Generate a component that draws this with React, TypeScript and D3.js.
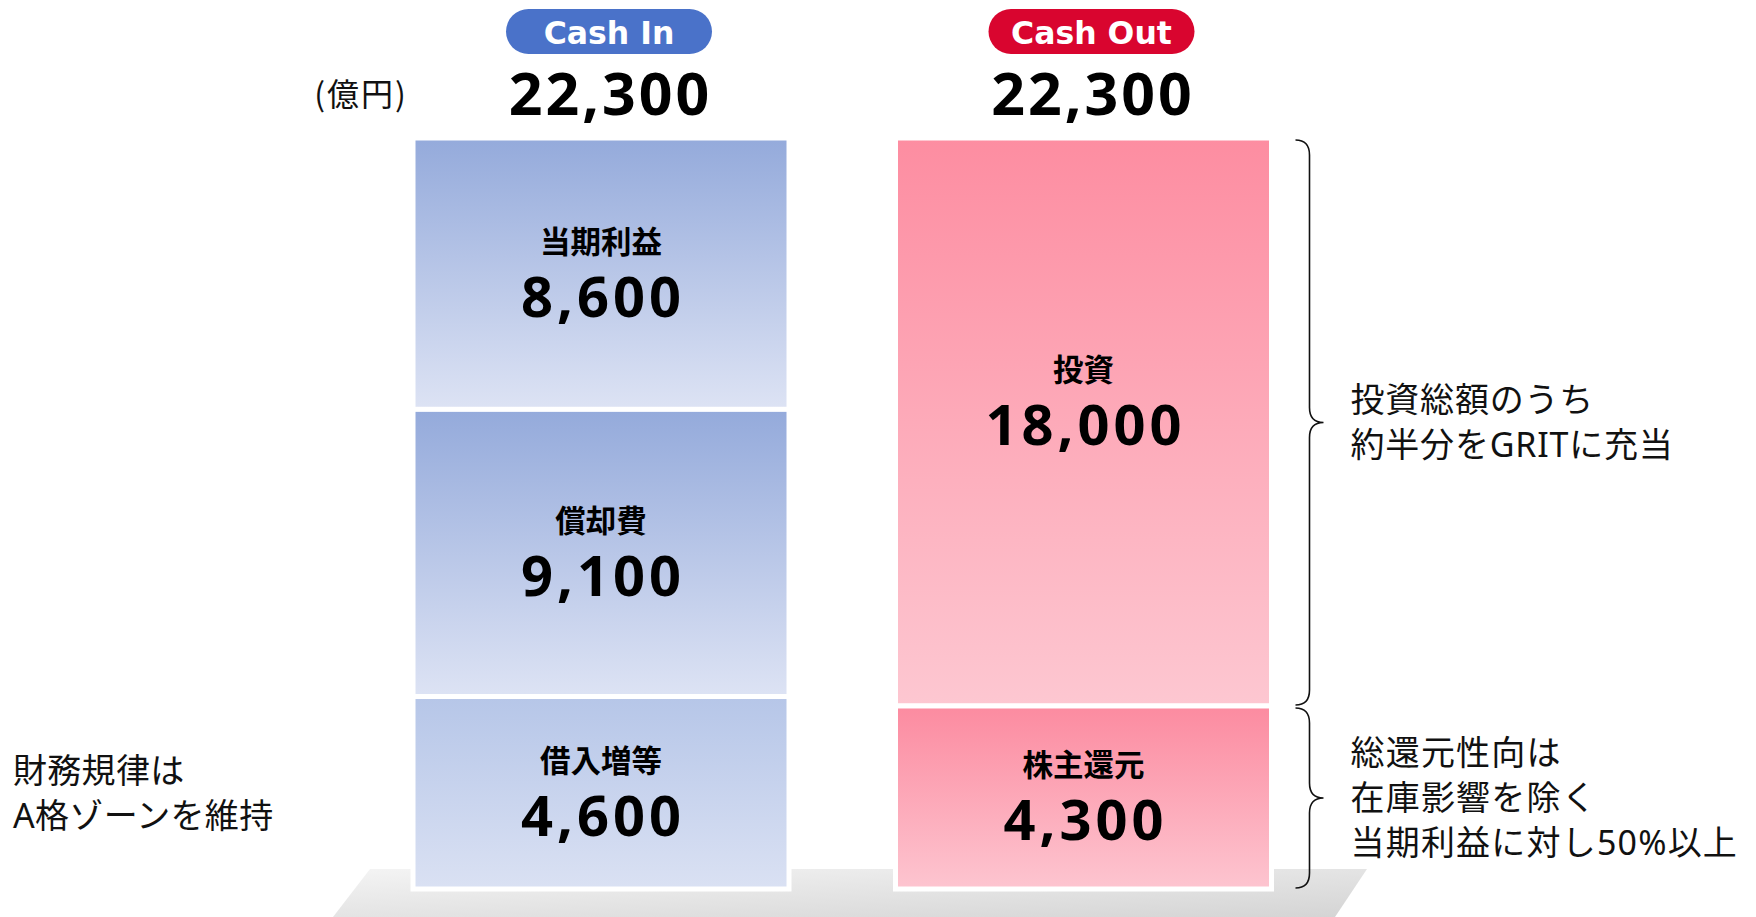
import React from 'react';
import * as d3 from 'd3';

// ---- data ----
const columns = ['Cash In', 'Cash Out'];
const totals = [22300, 22300];
const cashInCategories = ['当期利益', '償却費', '借入増等'];
const cashInValues = [8600, 9100, 4600];
const cashOutCategories = ['投資', '株主還元'];
const cashOutValues = [18000, 4300];
const unitLabel = '(億円)';
const investNote = ['投資総額のうち', '約半分をGRITに充当'];
const returnNote = ['総還元性向は', '在庫影響を除く', '当期利益に対し50%以上'];
const leftNote = ['財務規律は', 'A格ゾーンを維持'];

// ---- styles ----
const W = 1756;
const H = 917;
const pillColors = ['#4A72C9', '#D9052F'];
const inGradients = [
  ['#94AADB', '#DDE3F4'],
  ['#94AADB', '#DDE3F4'],
  ['#B6C6E8', '#DAE1F3'],
];
const outGradients = [
  ['#FD8DA1', '#FDC7D1'],
  ['#FC8BA0', '#FDC5D0'],
];
const inLabelShift = [0, 0, 0];
const outLabelShift = [-20, 0];
const CJK = "'Noto Sans CJK JP', 'Noto Sans', sans-serif";
const MIXED = "'Noto Sans', 'Noto Sans CJK JP', sans-serif";
const NUM = "'Noto Sans', 'Noto Sans CJK JP', sans-serif";
const LATIN_BOLD = "'DejaVu Sans', 'Noto Sans', sans-serif";

type Seg = { name: string; value: number; y0: number; y1: number; grad: string[]; id: string; shift: number };

export default function App() {
  const x = d3.scaleBand<string>().domain(columns).range([413, 1271.5]).paddingInner(0.2207).paddingOuter(0);
  // bars start slightly below the visible floor line (baseline hidden)
  const baseValue = -1500;
  const y = d3.scaleLinear().domain([baseValue, d3.max(totals) as number]).range([889, 138]);
  const fmt = d3.format(',');

  const buildStack = (
    cats: string[],
    vals: number[],
    total: number,
    grads: string[][],
    shifts: number[],
    key: string
  ): Seg[] => {
    let acc = total;
    return cats.map((c, i) => {
      const top = acc;
      const bottom = i === cats.length - 1 ? baseValue : acc - vals[i];
      acc = acc - vals[i];
      return { name: c, value: vals[i], y0: y(top), y1: y(bottom), grad: grads[i], id: `${key}${i}`, shift: shifts[i] };
    });
  };

  const stacks = [
    buildStack(cashInCategories, cashInValues, totals[0], inGradients, inLabelShift, 'gin'),
    buildStack(cashOutCategories, cashOutValues, totals[1], outGradients, outLabelShift, 'gout'),
  ];

  const bw = x.bandwidth();

  const bracePath = (x0: number, ya: number, yb: number) => {
    const x1 = x0 + 14;
    const x2 = x0 + 28;
    const r = 15;
    const ym = (ya + yb) / 2;
    return `M${x0},${ya} Q${x1},${ya} ${x1},${ya + r} L${x1},${ym - r} Q${x1},${ym} ${x2},${ym} Q${x1},${ym} ${x1},${ym + r} L${x1},${yb - r} Q${x1},${yb} ${x0},${yb}`;
  };

  const outStack = stacks[1];
  const braceX = (x('Cash Out') as number) + bw + 24;
  const lineGap = 45;

  const noteBlock = (lines: string[], cx: number, cy: number, ls: number) =>
    lines.map((l, i) => (
      <text
        key={i}
        x={cx}
        y={cy + (i - (lines.length - 1) / 2) * lineGap}
        dominantBaseline="central"
        textAnchor="start"
        fontFamily={MIXED}
        fontSize={34}
        letterSpacing={ls}
        fill="#111"
      >
        {l}
      </text>
    ));

  const leftSegs = stacks[0];
  const lastLeft = leftSegs[leftSegs.length - 1];

  return (
    <svg width={W} height={H} style={{ position: 'absolute', left: 0, top: 0, background: '#fff' }}>
      <defs>
        {stacks.flat().map((s) => (
          <linearGradient key={s.id} id={s.id} x1="0" y1="0" x2="0" y2="1">
            <stop offset="0%" stopColor={s.grad[0]} />
            <stop offset="100%" stopColor={s.grad[1]} />
          </linearGradient>
        ))}
        <linearGradient id="floor" x1="0" y1="0" x2="1" y2="1">
          <stop offset="0%" stopColor="#F4F4F4" />
          <stop offset="100%" stopColor="#D4D4D4" />
        </linearGradient>
      </defs>

      {/* floor */}
      <polygon points="370,869 1367,869 1335,917 333,917" fill="url(#floor)" />

      {/* unit */}
      <text x={361} y={92} textAnchor="middle" dominantBaseline="central" fontFamily={CJK} fontSize={32} letterSpacing={2} fill="#111">
        {unitLabel}
      </text>

      {columns.map((c, ci) => {
        const bx = x(c) as number;
        const cx = bx + bw / 2 + 8;
        return (
          <g key={c}>
            <rect x={cx - 103} y={9} width={206} height={45} rx={22.5} fill={pillColors[ci]} />
            <text x={cx} y={44} textAnchor="middle" fontFamily={LATIN_BOLD} fontWeight="bold" fontSize={31.5} fill="#fff">
              {c}
            </text>
            <text
              x={cx + 1.5}
              y={115}
              textAnchor="middle"
              fontFamily={NUM}
              fontWeight="bold"
              fontSize={59}
              letterSpacing={3}
              fill="#000"
            >
              {fmt(totals[ci])}
            </text>
            {stacks[ci].map((s) => {
              const mid = (s.y0 + s.y1) / 2 + s.shift;
              const scx = bx + bw / 2;
              return (
                <g key={s.id}>
                  <rect x={bx} y={s.y0} width={bw} height={s.y1 - s.y0} fill={`url(#${s.id})`} stroke="#fff" strokeWidth={5} />
                  <text textAnchor="middle" fontWeight="bold" fill="#000">
                    <tspan x={scx} y={mid - 21} fontFamily={CJK} fontSize={30.5}>
                      {s.name}
                    </tspan>
                    <tspan x={scx + 2} y={mid + 43} fontFamily={NUM} fontSize={56} letterSpacing={4}>
                      {fmt(s.value)}
                    </tspan>
                  </text>
                </g>
              );
            })}
          </g>
        );
      })}

      {/* braces */}
      {outStack.map((s, i) => (
        <path key={`b${i}`} d={bracePath(braceX, s.y0 + 2, s.y1 - 1)} fill="none" stroke="#111" strokeWidth={1.6} />
      ))}

      {noteBlock(investNote, braceX + 55, (outStack[0].y0 + outStack[0].y1) / 2, 0.8)}
      {noteBlock(returnNote, braceX + 55, (outStack[1].y0 + outStack[1].y1) / 2, 1.2)}
      {noteBlock(leftNote, 13, (lastLeft.y0 + lastLeft.y1) / 2, 0.3)}
    </svg>
  );
}
